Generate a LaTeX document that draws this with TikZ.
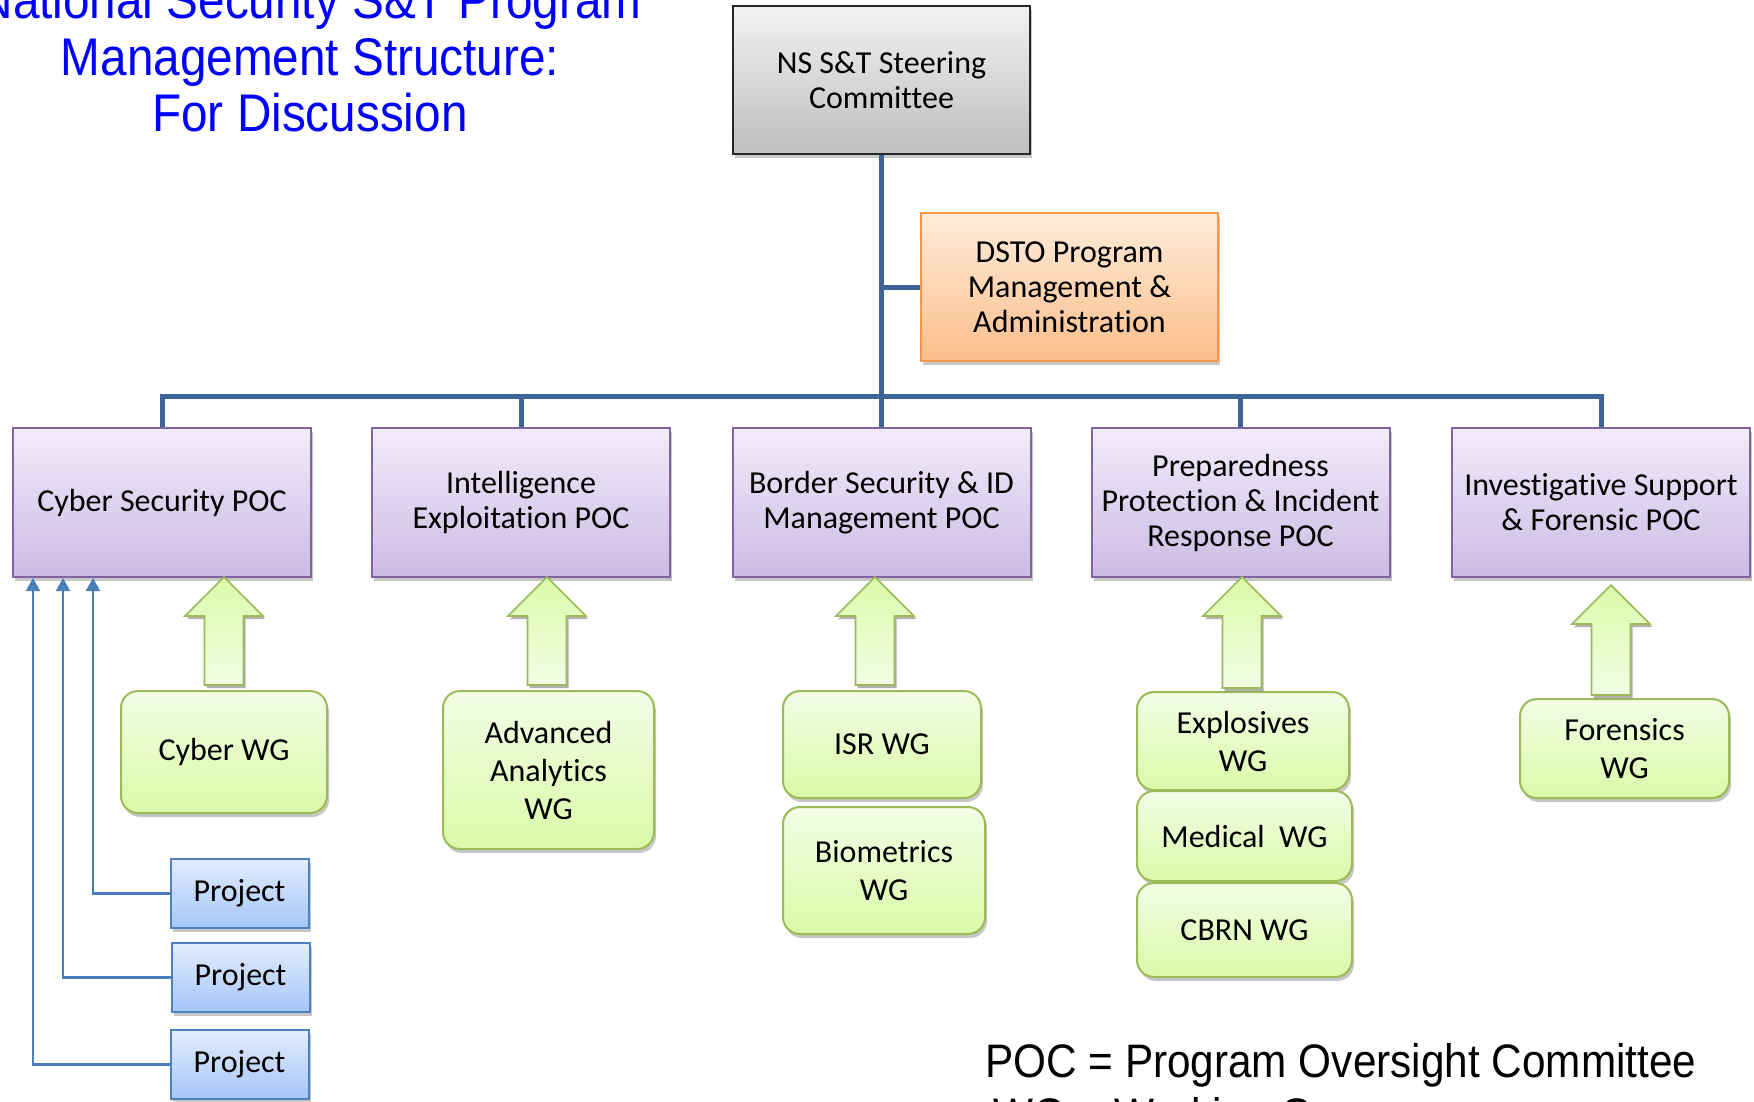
\documentclass[tikz,border=0pt]{standalone}
\usepackage{fontspec}
\setmainfont[Ligatures=NoCommon]{Carlito}
\newfontfamily\arialn[FakeStretch=0.9]{Liberation Sans}
\usetikzlibrary{shadows,arrows.meta,calc}
\definecolor{busblue}{RGB}{60,100,150}
\definecolor{conblue}{RGB}{74,126,187}
\definecolor{poctop}{RGB}{241,236,250}
\definecolor{pocbot}{RGB}{204,187,228}
\definecolor{pocedge}{RGB}{128,100,162}
\definecolor{steertop}{RGB}{242,242,242}
\definecolor{steerbot}{RGB}{190,190,190}
\definecolor{steeredge}{RGB}{38,38,38}
\definecolor{dstotop}{RGB}{255,236,220}
\definecolor{dstobot}{RGB}{251,190,138}
\definecolor{dstoedge}{RGB}{247,150,70}
\definecolor{wgtop}{RGB}{243,253,230}
\definecolor{wgbot}{RGB}{218,250,168}
\definecolor{wgedge}{RGB}{155,187,89}
\definecolor{projtop}{RGB}{226,236,253}
\definecolor{projbot}{RGB}{166,198,248}
\definecolor{projedge}{RGB}{79,129,189}
\definecolor{titleblue}{RGB}{0,0,255}
\begin{document}
\begin{tikzpicture}[x=1pt,y=-1pt,
  shad/.style={drop shadow={shadow xshift=2pt,shadow yshift=-4pt,fill=black,opacity=0.22}},
  basebox/.style={draw,align=center,inner sep=2pt,shad,text=black},
  steerbox/.style={basebox,line width=2.5pt,draw=steeredge,top color=steertop,bottom color=steerbot,
    minimum width=297,minimum height=148,font=\fontsize{32}{35}\selectfont},
  dstobox/.style={basebox,line width=2pt,draw=dstoedge,top color=dstotop,bottom color=dstobot,
    minimum width=297,minimum height=148,font=\fontsize{32}{35}\selectfont},
  pocbox/.style={basebox,line width=2pt,draw=pocedge,top color=poctop,bottom color=pocbot,
    minimum width=298,minimum height=149,font=\fontsize{32}{35}\selectfont},
  wgbox/.style={basebox,line width=2pt,draw=wgedge,top color=wgtop,bottom color=wgbot,
    rounded corners=17pt,font=\fontsize{32}{38}\selectfont},
  projbox/.style={basebox,line width=2pt,draw=projedge,top color=projtop,bottom color=projbot,
    minimum width=138,minimum height=69,font=\fontsize{32}{35}\selectfont},
  garrow/.style={draw=wgedge,line width=1.6pt,top color=wgbot,bottom color=wgtop,
    drop shadow={shadow xshift=2pt,shadow yshift=-3pt,fill=black,opacity=0.3}},
  busline/.style={draw=busblue,line width=5pt},
  pconn/.style={draw=conblue,line width=2.2pt,-{Triangle[width=14pt,length=13pt]}},
  titletext/.style={text=titleblue,font=\arialn\fontsize{53}{57}\selectfont,inner sep=0pt},
  foottext/.style={text=black,font=\arialn\fontsize{47}{53}\selectfont,inner sep=0pt}
]
\useasboundingbox (0,0) rectangle (1754,1101);
\fill[white] (0,0) rectangle (1754,1101);
\clip (0,0) rectangle (1754,1101);

% title
\node[titletext,anchor=base] (t1) at (310,18) {National Security S\&T Program};
\node[titletext,anchor=base] (t2) at (310,75) {Management Structure:};
\node[titletext,anchor=base] (t3) at (310,131) {For Discussion};

% top
\node[steerbox] (steer) at (881.5,80) {NS S\&T Steering\\Committee};
\node[dstobox] (dsto) at (1069.5,287) {DSTO Program\\Management \&\\Administration};

% POCs
\node[pocbox] (cyber) at (162,502.5) {Cyber Security POC};
\node[pocbox] (intel) at (521,502.5) {Intelligence\\Exploitation POC};
\node[pocbox] (border) at (881.5,502.5) {Border Security \& ID\\Management POC};
\node[pocbox] (prep) at (1240.5,502.5) {Preparedness\\Protection \& Incident\\Response POC};
\node[pocbox] (invest) at (1601,502.5) {Investigative Support\\\& Forensic POC};

% bus connectors
\coordinate (bus) at (881.5,396);
\draw[busline] (steer.south) -- (border.north);
\draw[busline] (steer.south |- dsto.west) -- (dsto.west);
\draw[busline] (cyber.north) |- (bus) -| (invest.north);
\draw[busline] (intel.north) -- (intel.north |- bus);
\draw[busline] (prep.north) -- (prep.north |- bus);

% WGs
\node[wgbox,minimum width=206,minimum height=122] (cyberwg) at (224,752) {Cyber WG};
\node[wgbox,minimum width=211,minimum height=158] (aawg) at (548.5,770) {Advanced\\Analytics\\WG};
\node[wgbox,minimum width=198,minimum height=107] (isrwg) at (882,744.5) {ISR WG};
\node[wgbox,minimum width=202,minimum height=127] (biowg) at (884,870.5) {Biometrics\\WG};
\node[wgbox,minimum width=212,minimum height=98] (explwg) at (1243,741) {Explosives\\WG};
\node[wgbox,minimum width=215,minimum height=90] (medwg) at (1244.5,836) {Medical\ \ WG};
\node[wgbox,minimum width=215,minimum height=94] (cbrnwg) at (1244.5,930) {CBRN WG};
\node[wgbox,minimum width=209,minimum height=99] (forwg) at (1624.5,748.5) {Forensics\\WG};

% green block arrows
\foreach \cx/\tp/\bt in {224/577/685, 547/577/685, 875/577/685, 1242/577/688, 1611/585/695}{
  \path[garrow] (\cx,\tp) -- ({\cx+39},{\tp+39}) -- ({\cx+19.5},{\tp+39}) -- ({\cx+19.5},\bt)
    -- ({\cx-19.5},\bt) -- ({\cx-19.5},{\tp+39}) -- ({\cx-39},{\tp+39}) -- cycle;
}

% projects
\node[projbox] (p1) at (239.5,893.5) {Project};
\node[projbox] (p2) at (240.5,977.5) {Project};
\node[projbox] (p3) at (239.5,1064.5) {Project};
\draw[pconn] (p1.west) -| ($(cyber.south west)+(81,0)$);
\draw[pconn] (p2.west) -| ($(cyber.south west)+(51,0)$);
\draw[pconn] (p3.west) -| ($(cyber.south west)+(21,0)$);

% footer
\node[foottext,anchor=base west] (f1) at (985,1077) {POC = Program Oversight Committee};
\node[foottext,anchor=base west] (f2) at (993,1131) {WG = Working Group};
\end{tikzpicture}
\end{document}
